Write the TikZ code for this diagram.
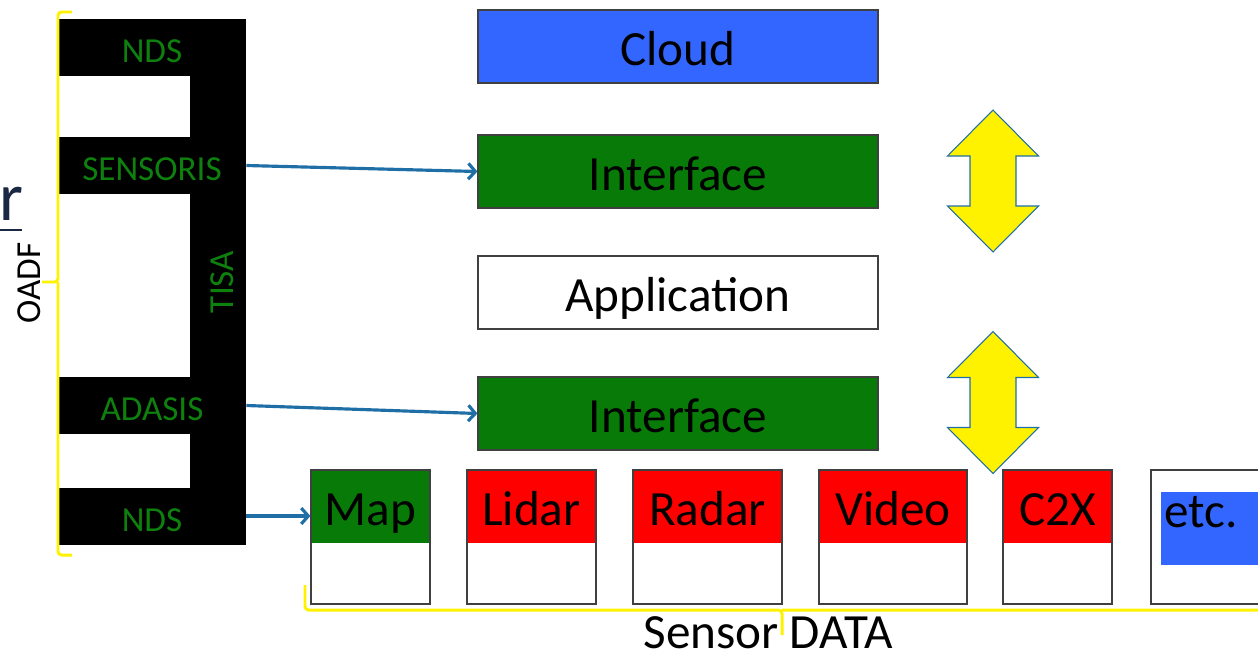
\documentclass[tikz,border=0pt]{standalone}
\usepackage{fontspec}
\setmainfont{Carlito}
\usetikzlibrary{arrows.meta}
\definecolor{boxgreen}{RGB}{8,122,8}
\definecolor{txtgreen}{RGB}{14,128,14}
\definecolor{cloudblue}{RGB}{51,102,255}
\definecolor{arrowblue}{RGB}{31,111,166}
\definecolor{edgegray}{RGB}{64,64,64}
\definecolor{navy}{RGB}{27,40,68}
\newcommand{\layerfont}{\fontsize{28}{30}\selectfont}
\newcommand{\barfont}{\fontsize{20}{22}\selectfont}
\tikzset{
	layer/.style = {draw=edgegray, line width=0.7pt, minimum width=8cm,
		minimum height=1.46cm, inner sep=0pt, text height=22pt, text depth=0pt,
		font=\layerfont},% couche centrale
	bar/.style = {fill=black, minimum width=3.76cm, minimum height=1.14cm,
		inner sep=0pt, text=txtgreen, text height=17.5pt, text depth=0pt,
		font=\barfont},% barre noire OADF
	sensortop/.style = {minimum height=1.46cm, inner sep=0pt,
		text height=22pt, text depth=0pt, font=\layerfont},% haut du capteur
	sensorbox/.style = {draw=edgegray, line width=0.7pt, minimum height=2.68cm,
		inner sep=0pt},% cadre du capteur
	link/.style = {draw=arrowblue, line width=1.8pt,
		-{Straight Barb[length=4pt,width=9pt]}},
	brace/.style = {draw=yellow, line width=1.7pt, line join=round,
		rounded corners=2pt},
	updown/.style = {fill=yellow, draw=arrowblue, line width=0.6pt}
}

\begin{document}
\begin{tikzpicture}[x=0.02cm, y=-0.02cm]
	\clip (0,0) rectangle (1258,660);
	% texte au bord
	\node[anchor=base west, inner sep=0pt, text=navy,
		font=\fontsize{39}{40}\selectfont] (cut) at (-1,220) {r};
	\draw[navy, line width=1.2pt] (0,230) -- (22,230);

	% bloc OADF
	\node[bar, minimum width=10.52cm, minimum height=1.12cm, rotate=90] (tisa) at (218,282) {TISA};
	\node[bar] (ndsTop) at (152,47.5) {NDS};
	\node[bar] (sensoris) at (152,165.5) {SENSORIS};
	\node[bar] (adasis) at (152,405.5) {ADASIS};
	\node[bar] (ndsBot) at (152,516) {NDS};
	\draw[brace] (72,12) -- (58,12) -- (58,282) -- (42,282)
		(58,282) -- (58,555) -- (72,555);
	\node[rotate=90, inner sep=0pt, font=\barfont] (oadf) at (29,283) {OADF};

	% couches
	\node[layer, fill=cloudblue] (cloud) at (678,46.5) {Cloud};
	\node[layer, fill=boxgreen] (ifaceTop) at (678,171.5) {Interface};
	\node[layer, fill=white] (app) at (678,292.5) {Application};
	\node[layer, fill=boxgreen] (ifaceBot) at (678,413.5) {Interface};

	\foreach \yc in {181,402.5}{
		\draw[updown, shift={(993,\yc)}] (0,-71) -- (45.5,-25) -- (23,-25) -- (23,25)
			-- (45.5,25) -- (0,71) -- (-45.5,25) -- (-23,25) -- (-23,-25)
			-- (-45.5,-25) -- cycle;
	}

	% capteurs
	\foreach \name/\xc/\w/\col/\txt in {map/370.5/2.38/boxgreen/Map,
		lidar/531.5/2.58/red/Lidar, radar/707.5/2.98/red/Radar,
		video/893/2.96/red/Video, ctwox/1057.5/2.18/red/C2X}{
		\node[sensortop, fill=\col, minimum width=\w cm] (top-\name) at (\xc,506.5) {\txt};
		\node[sensorbox, minimum width=\w cm] (\name) at (\xc,537) {};
	}
	\node[anchor=north west, fill=cloudblue, minimum width=3cm, minimum height=1.46cm,
		inner sep=0pt] (etcfill) at (1161,492) {};
	\node[anchor=base west, inner sep=0pt, font=\layerfont] (etctxt) at (1164,527) {etc.};
	\node[sensorbox, minimum width=3cm] (etc) at (1226,537) {};

	\draw[link] (sensoris.east) -- (ifaceTop.west);
	\draw[link] (adasis.east) -- (ifaceBot.west);
	\draw[link] (ndsBot.east) -- (ndsBot.east -| map.west);

	\node[anchor=base, inner sep=0pt, font=\layerfont] (sensordata) at (768,648) {Sensor DATA};
	\draw[brace] (305,585) |- (782,610) -- (782,635) (782,610) -- (1270,610);
\end{tikzpicture}
\end{document}
